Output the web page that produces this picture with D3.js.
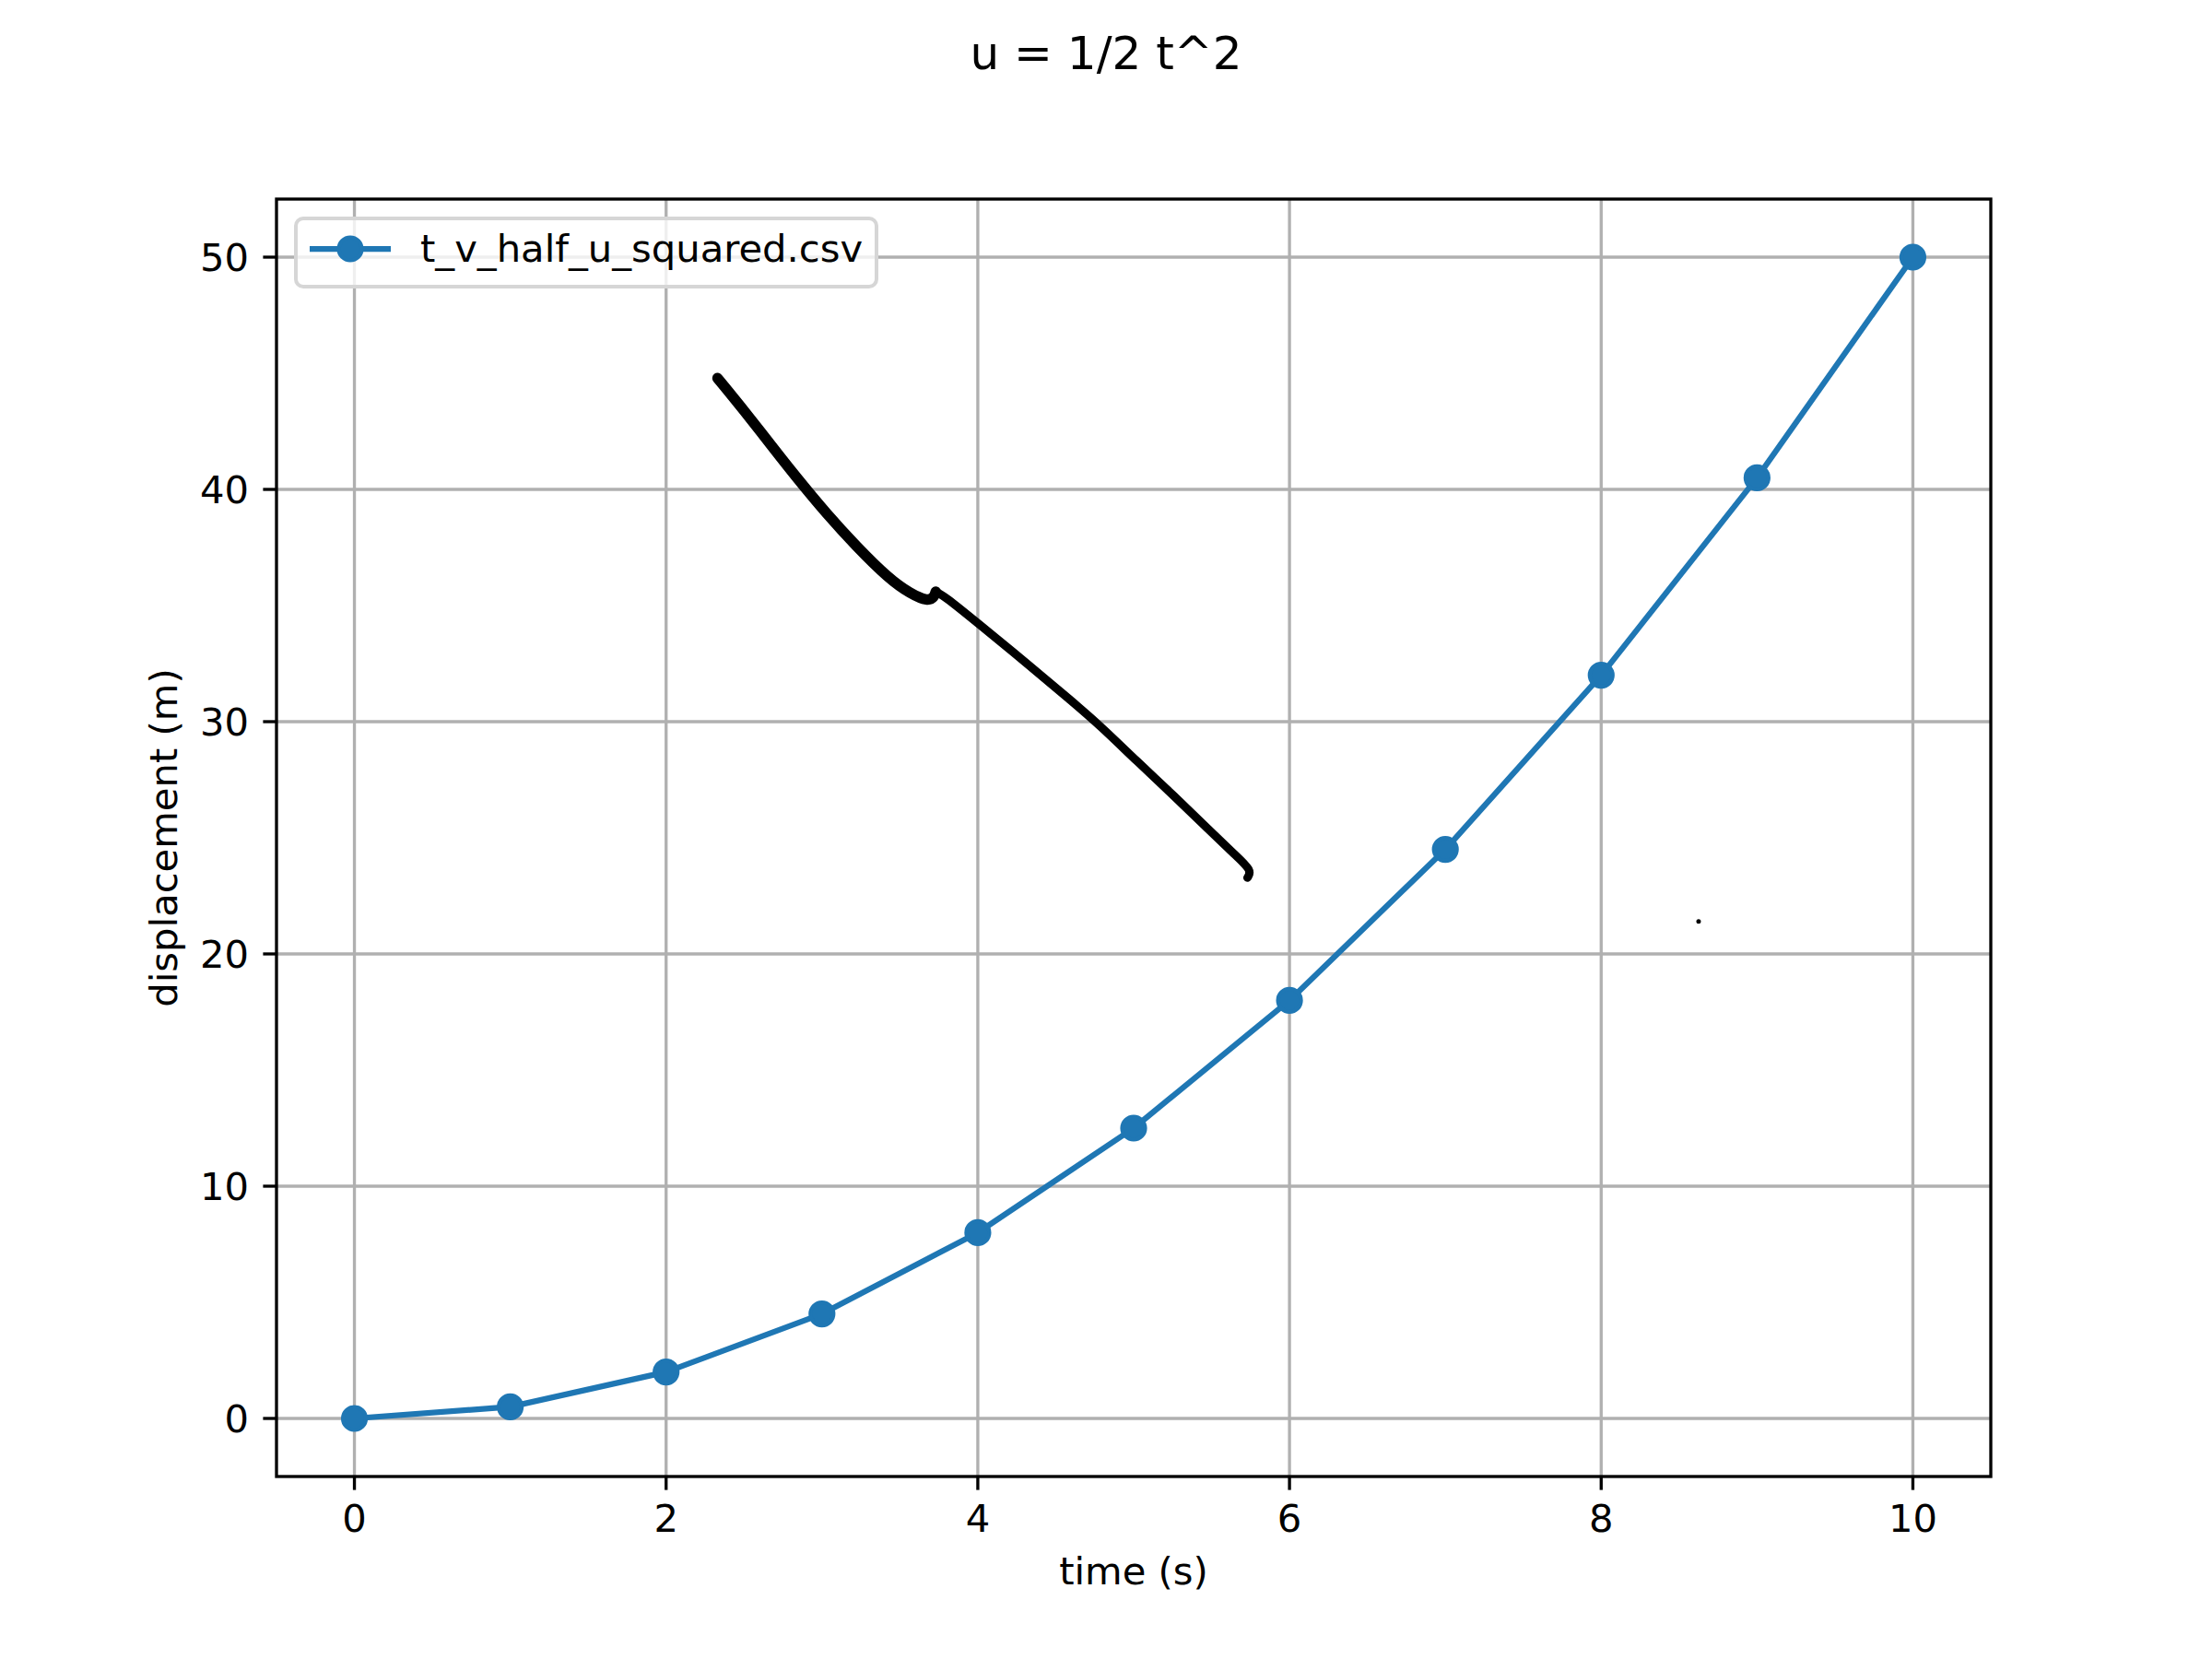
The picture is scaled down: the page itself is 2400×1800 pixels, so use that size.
<!DOCTYPE html>
<html>
<head>
<meta charset="utf-8">
<script src="https://cdn.jsdelivr.net/npm/d3@7"></script>
<style>
  html, body { margin: 0; padding: 0; background: #fff; }
  text { font-family: "DejaVu Sans", sans-serif; fill: #000; }
</style>
</head>
<body>
<script>
// ---- data ----
const times = [0, 1, 2, 3, 4, 5, 6, 7, 8, 9, 10];
const displacement = [0, 0.5, 2, 4.5, 8, 12.5, 18, 24.5, 32, 40.5, 50];
const xTicks = [0, 2, 4, 6, 8, 10];
const yTicks = [0, 10, 20, 30, 40, 50];
const seriesName = "t_v_half_u_squared.csv";
const titleText = "u = 1/2 t^2";
const xLabel = "time (s)";
const yLabel = "displacement (m)";
// hand-drawn annotation stroke (data coordinates: [t, v])
const strokeA = [[2.33, 44.79], [2.50, 43.40], [2.68, 41.85], [2.85, 40.40], [3.03, 38.95],
                 [3.22, 37.55], [3.43, 36.15], [3.57, 35.50], [3.68, 35.18], [3.72, 35.36], [3.73, 35.59]];
const strokeB = [[3.73, 35.59], [3.78, 35.44], [3.99, 34.30], [4.32, 32.48], [4.60, 30.90],
                 [4.79, 29.80], [5.02, 28.30], [5.26, 26.80], [5.49, 25.30], [5.65, 24.27],
                 [5.76, 23.59], [5.73, 23.28]];
const strayDot = [[8.625, 21.40]];

// ---- layout ----
const W = 2400, H = 1800;
const L = 300, R = 2160, T = 216, B = 1602;
const blue = "#1f77b4";

const svg = d3.select("body").append("svg").attr("width", W).attr("height", H);
svg.append("rect").attr("width", W).attr("height", H).attr("fill", "#fff");

const x = d3.scaleLinear().domain([-0.5, 10.5]).range([L, R]);
const y = d3.scaleLinear().domain([-2.5, 52.5]).range([B, T]);

svg.append("clipPath").attr("id", "clip").append("rect")
  .attr("x", L).attr("y", T).attr("width", R - L).attr("height", B - T);

// grid
const grid = svg.append("g");
grid.selectAll(".gx").data(xTicks).join("line")
  .attr("x1", d => x(d)).attr("x2", d => x(d)).attr("y1", T).attr("y2", B)
  .attr("stroke", "#b0b0b0").attr("stroke-width", 3.33);
grid.selectAll(".gy").data(yTicks).join("line")
  .attr("y1", d => y(d)).attr("y2", d => y(d)).attr("x1", L).attr("x2", R)
  .attr("stroke", "#b0b0b0").attr("stroke-width", 3.33);

// series
const pts = times.map((t, i) => [t, displacement[i]]);
const plot = svg.append("g").attr("clip-path", "url(#clip)");
plot.append("path").datum(pts)
  .attr("d", d3.line().x(d => x(d[0])).y(d => y(d[1])))
  .attr("fill", "none").attr("stroke", blue).attr("stroke-width", 6.25)
  .attr("stroke-linejoin", "round").attr("stroke-linecap", "square");
plot.selectAll("circle.m").data(pts).join("circle")
  .attr("cx", d => x(d[0])).attr("cy", d => y(d[1])).attr("r", 12.5)
  .attr("fill", blue).attr("stroke", blue).attr("stroke-width", 4.2);

// annotation strokes
const sline = d3.line().x(d => x(d[0])).y(d => y(d[1])).curve(d3.curveBasis);
plot.append("path").datum(strokeA).attr("d", sline)
  .attr("fill", "none").attr("stroke", "#000").attr("stroke-width", 11.5)
  .attr("stroke-linecap", "round").attr("stroke-linejoin", "round");
plot.append("path").datum(strokeB).attr("d", sline)
  .attr("fill", "none").attr("stroke", "#000").attr("stroke-width", 9)
  .attr("stroke-linecap", "round").attr("stroke-linejoin", "round");
plot.selectAll("circle.s").data(strayDot).join("circle")
  .attr("cx", d => x(d[0])).attr("cy", d => y(d[1])).attr("r", 2.5).attr("fill", "#000");

// spines
svg.append("rect").attr("x", L).attr("y", T).attr("width", R - L).attr("height", B - T)
  .attr("fill", "none").attr("stroke", "#000").attr("stroke-width", 3.33);

// ticks
const xa = svg.append("g");
xa.selectAll("line").data(xTicks).join("line")
  .attr("x1", d => x(d)).attr("x2", d => x(d)).attr("y1", B).attr("y2", B + 14.6)
  .attr("stroke", "#000").attr("stroke-width", 3.33);
xa.selectAll("text").data(xTicks).join("text")
  .attr("x", d => x(d)).attr("y", 1662).attr("text-anchor", "middle")
  .attr("font-size", 41.7).text(d => d);

const ya = svg.append("g");
ya.selectAll("line").data(yTicks).join("line")
  .attr("y1", d => y(d)).attr("y2", d => y(d)).attr("x1", L - 14.6).attr("x2", L)
  .attr("stroke", "#000").attr("stroke-width", 3.33);
ya.selectAll("text").data(yTicks).join("text")
  .attr("x", 270).attr("y", d => y(d) + 15).attr("text-anchor", "end")
  .attr("font-size", 41.7).text(d => d);

// labels
svg.append("text").attr("x", (L + R) / 2).attr("y", 1719).attr("text-anchor", "middle")
  .attr("font-size", 41.7).text(xLabel);
svg.append("text").attr("transform", `translate(192,${(T + B) / 2}) rotate(-90)`)
  .attr("text-anchor", "middle").attr("font-size", 41.7).text(yLabel);
svg.append("text").attr("x", W / 2).attr("y", 75).attr("text-anchor", "middle")
  .attr("font-size", 50).text(titleText);

// legend
const lg = svg.append("g");
lg.append("rect").attr("x", 321).attr("y", 237).attr("width", 630).attr("height", 74)
  .attr("rx", 8).attr("ry", 8).attr("fill", "rgba(255,255,255,0.8)")
  .attr("stroke", "#d6d6d6").attr("stroke-width", 4);
lg.append("line").attr("x1", 336).attr("x2", 424).attr("y1", 270).attr("y2", 270)
  .attr("stroke", blue).attr("stroke-width", 6.25);
lg.append("circle").attr("cx", 380).attr("cy", 270).attr("r", 12.5)
  .attr("fill", blue).attr("stroke", blue).attr("stroke-width", 4.2);
lg.append("text").attr("x", 456).attr("y", 284).attr("font-size", 41.7).text(seriesName);
</script>
</body>
</html>
